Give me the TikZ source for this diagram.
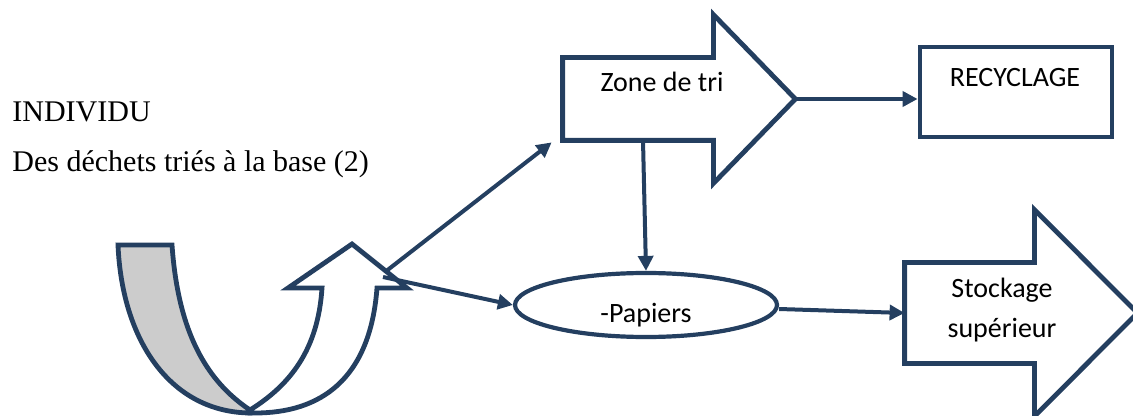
\documentclass[tikz,border=0pt]{standalone}
\usepackage{fontspec}
\setmainfont{Liberation Serif}
\newfontfamily\boxfont{Carlito}
\usepackage{tikz}
\usetikzlibrary{positioning, arrows.meta, shapes}
\definecolor{navy}{HTML}{243F60}
\definecolor{strip}{HTML}{CCCCCC}

\begin{document}
\begin{tikzpicture}[x=0.5pt, y=-0.5pt]
\tikzset{
  outline/.style={draw=navy, line width=2.4pt, line join=miter},
  block/.style={outline, rectangle, inner sep=0pt},
  body/.style={rectangle, inner sep=0pt},
  oval/.style={outline, ellipse, inner sep=0pt, line width=2.1pt},
  arrow/.style={draw=navy, line width=2pt, -{Triangle[length=7.5pt, width=7.5pt]}},
  lbl/.style={font=\boxfont\fontsize{14}{20}\selectfont, anchor=base, inner sep=0pt, align=center},
  txt/.style={font=\fontsize{15}{18}\selectfont, anchor=base west, inner sep=0pt}
}
\clip (0,0) rectangle (1133,416);

\node (individu) [txt] at (12,122) {INDIVIDU};
\node (dechets) [txt] at (12,172) {Des déchets triés à la base (2)};

% u-turn arrow
\draw[outline, fill=strip] (118,245) -- (172,245) .. controls (178,330) and (205,380) .. (250,410)
  -- (250,413) .. controls (170,412) and (122,340) .. (118,245) -- cycle;
\draw[outline, fill=white] (250,410) .. controls (290,385) and (318,350) .. (322,288) -- (288,288)
  -- (352,244) -- (407,288) -- (377,288) .. controls (370,380) and (320,413) .. (255,413) -- (250,413) -- cycle;
\coordinate (uhead) at (385,272);

% zone de tri
\node (tri) [body, minimum width=75pt, minimum height=41pt] at (638,99) {};
\coordinate [right=41pt of tri.east] (tritip);
\draw[outline] (tri.north west) -- (tri.north east) -- ++(0,-43) -- (tritip)
  -- ([yshift=-21.5pt]tri.south east) -- (tri.south east) -- (tri.south west) -- cycle;
\node (trilbl) [lbl] at (662,92) {Zone de tri};

\node (recyclage) [block, minimum width=96pt, minimum height=45pt] at (1016,92) {};
\node (recylbl) [lbl] at (1015,87) {RECYCLAGE};

\node (papiers) [oval, minimum width=131pt, minimum height=32pt] at (646,305) {};
\node (paplbl) [lbl] at (646,322) {-Papiers};

% stockage
\node (stockage) [body, minimum width=64.5pt, minimum height=50pt] at (969.5,313) {};
\coordinate [right=51.5pt of stockage.east] (stocktip);
\draw[outline] (stockage.north west) -- (stockage.north east) -- ++(0,-53) -- (stocktip)
  -- ([yshift=-26.5pt]stockage.south east) -- (stockage.south east) -- (stockage.south west) -- cycle;
\node (stocklbl) [lbl] at (1002,337) {Stockage\\supérieur};

\draw[arrow] (uhead) -- ([shift={(-11,2)}]tri.south west);
\draw[arrow] ([shift={(-2,5)}]uhead) -- (papiers.west);
\draw[arrow] (tritip) -- (tritip -| recyclage.west);
\draw[arrow] ([xshift=2.5pt]tri.south) -- (papiers.north);
\draw[arrow] ([yshift=-2pt]papiers.east) -- (stockage.west);
\end{tikzpicture}
\end{document}
